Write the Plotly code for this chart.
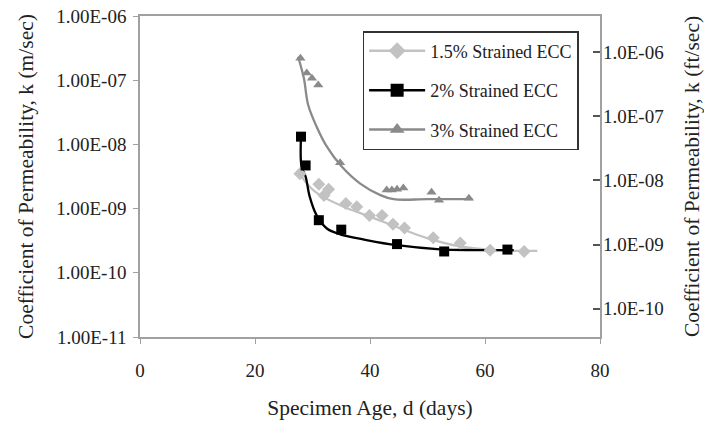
import plotly.graph_objects as go

# ---------------- data ----------------
series_names = ["1.5% Strained ECC", "2% Strained ECC", "3% Strained ECC"]

# measured points
age_15 = [27.8, 31.1, 32.0, 32.8, 35.8, 37.7, 39.9, 42.1, 44.0, 46.0, 51.0, 55.7, 60.9, 66.8]
k_15 = [3.5e-9, 2.4e-9, 1.6e-9, 2.0e-9, 1.2e-9, 1.07e-9, 7.8e-10, 7.8e-10,
        5.7e-10, 5.0e-10, 3.5e-10, 2.9e-10, 2.25e-10, 2.15e-10]

age_2 = [28.0, 28.8, 31.1, 35.0, 44.7, 52.9, 63.9]
k_2 = [1.32e-8, 4.7e-9, 6.6e-10, 4.7e-10, 2.8e-10, 2.15e-10, 2.3e-10]

age_3 = [27.9, 29.0, 29.9, 31.0, 34.8, 42.9, 43.8, 44.7, 45.8, 50.7, 52.0, 57.2]
k_3 = [2.2e-7, 1.3e-7, 1.07e-7, 8.4e-8, 5.2e-9, 1.95e-9, 1.95e-9, 2.0e-9,
       2.1e-9, 1.8e-9, 1.35e-9, 1.45e-9]

# fitted curves drawn through each series
fit_age_15 = [27.5, 29.5, 31.3, 35.4, 40.0, 45.3, 49.9, 55.7, 61.5, 69.1]
fit_k_15 = [3.76e-9, 2.19e-9, 1.62e-9, 1.07e-9, 7.5e-10, 4.9e-10, 3.47e-10,
            2.57e-10, 2.26e-10, 2.19e-10]

fit_age_2 = [28.0, 28.1, 28.8, 29.5, 30.7, 32.5, 34.8, 39.4, 44.7, 52.2, 58.0, 65.0]
fit_k_2 = [1.32e-8, 4.47e-9, 3.16e-9, 1.55e-9, 7.9e-10, 4.9e-10, 3.98e-10,
           3.24e-10, 2.69e-10, 2.32e-10, 2.26e-10, 2.26e-10]

fit_age_3 = [27.5, 28.5, 29.25, 30.7, 32.5, 35.0, 38.3, 41.8, 44.1, 50.0, 57.8]
fit_k_3 = [2.32e-7, 1.07e-7, 4.1e-8, 1.9e-8, 9.2e-9, 4.6e-9, 2.45e-9,
           1.62e-9, 1.4e-9, 1.4e-9, 1.4e-9]

x_ticks = [0, 20, 40, 60, 80]
left_tickvals = [1e-6, 1e-7, 1e-8, 1e-9, 1e-10, 1e-11]
left_ticktext = ["1.00E-06", "1.00E-07", "1.00E-08", "1.00E-09", "1.00E-10", "1.00E-11"]
right_tickvals = [1e-6, 1e-7, 1e-8, 1e-9, 1e-10]
right_ticktext = ["1.0E-06", "1.0E-07", "1.0E-08", "1.0E-09", "1.0E-10"]

# ---------------- styling ----------------
colors = ["#c2c2c2", "#000000", "#8a8a8a"]
symbols = ["diamond", "square", "triangle-up"]
sizes = [10, 10, 9]
FONT = "Liberation Serif, Times New Roman, serif"
TXT = "#222222"

fig = go.Figure()

fits = [(fit_age_15, fit_k_15), (fit_age_2, fit_k_2), (fit_age_3, fit_k_3)]
pts = [(age_15, k_15), (age_2, k_2), (age_3, k_3)]

for i in range(3):
    fx, fy = fits[i]
    fig.add_trace(go.Scatter(
        x=fx, y=fy, mode="lines", line=dict(color=colors[i], width=2.3, shape="spline"),
        showlegend=False, hoverinfo="skip"))
for i in range(3):
    px, py = pts[i]
    fig.add_trace(go.Scatter(
        x=px, y=py, mode="markers",
        marker=dict(color=colors[i], symbol=symbols[i], size=sizes[i]),
        showlegend=False))
# legend entries
for i in range(3):
    fig.add_trace(go.Scatter(
        x=[None], y=[None], mode="lines+markers", name=series_names[i],
        legendgroup=series_names[i],
        line=dict(color=colors[i], width=2.5),
        marker=dict(color=colors[i], symbol=symbols[i], size=13)))

# dummy trace to activate the right axis
fig.add_trace(go.Scatter(x=[None], y=[None], yaxis="y2", showlegend=False, hoverinfo="skip"))

axis_gray = "#a0a0a0"
fig.update_layout(
    width=704, height=421,
    margin=dict(l=140, r=104, t=16, b=84),
    paper_bgcolor="white", plot_bgcolor="white",
    font=dict(family=FONT, size=19, color=TXT),
    showlegend=True,
    legend=dict(
        x=0.484, y=0.953, xanchor="left", yanchor="top",
        bordercolor="#333333", borderwidth=1.5, bgcolor="white",
        font=dict(family=FONT, size=18, color=TXT),
        traceorder="grouped", tracegroupgap=13, itemwidth=56,
    ),
    xaxis=dict(
        range=[0, 80], tickvals=x_ticks, ticks="outside", ticklen=5,
        tickcolor=axis_gray, showgrid=False, zeroline=False, automargin=False,
        showline=True, linecolor=axis_gray, linewidth=1.5, mirror=True,
        tickfont=dict(family=FONT, size=19, color=TXT), ticklabelstandoff=10,
        title=dict(text="Specimen Age, d (days)", font=dict(family=FONT, size=21.5, color=TXT), standoff=20),
    ),
    yaxis=dict(
        type="log", range=[-11, -6], tickvals=left_tickvals, ticktext=left_ticktext,
        ticks="outside", ticklen=5, tickcolor=axis_gray, showgrid=False, zeroline=False,
        automargin=False,
        showline=True, linecolor=axis_gray, linewidth=1.5, mirror=True,
        tickfont=dict(family=FONT, size=19, color=TXT), ticklabelstandoff=3,
        title=dict(text="Coefficient of Permeability, k (m/sec)", font=dict(family=FONT, size=21.5, color=TXT), standoff=17),
    ),
    yaxis2=dict(
        type="log", range=[-10.44, -5.44], overlaying="y", side="right",
        tickvals=right_tickvals, ticktext=right_ticktext,
        ticks="inside", ticklen=7, tickcolor="#555555", tickwidth=1.5,
        showgrid=False, zeroline=False, showline=False, automargin=False,
        tickfont=dict(family=FONT, size=19, color=TXT), ticklabelstandoff=2,
        title=dict(text="Coefficient of Permeability, k (ft/sec)", font=dict(family=FONT, size=21.5, color=TXT), standoff=22),
    ),
)

fig.write_html("out.html")
